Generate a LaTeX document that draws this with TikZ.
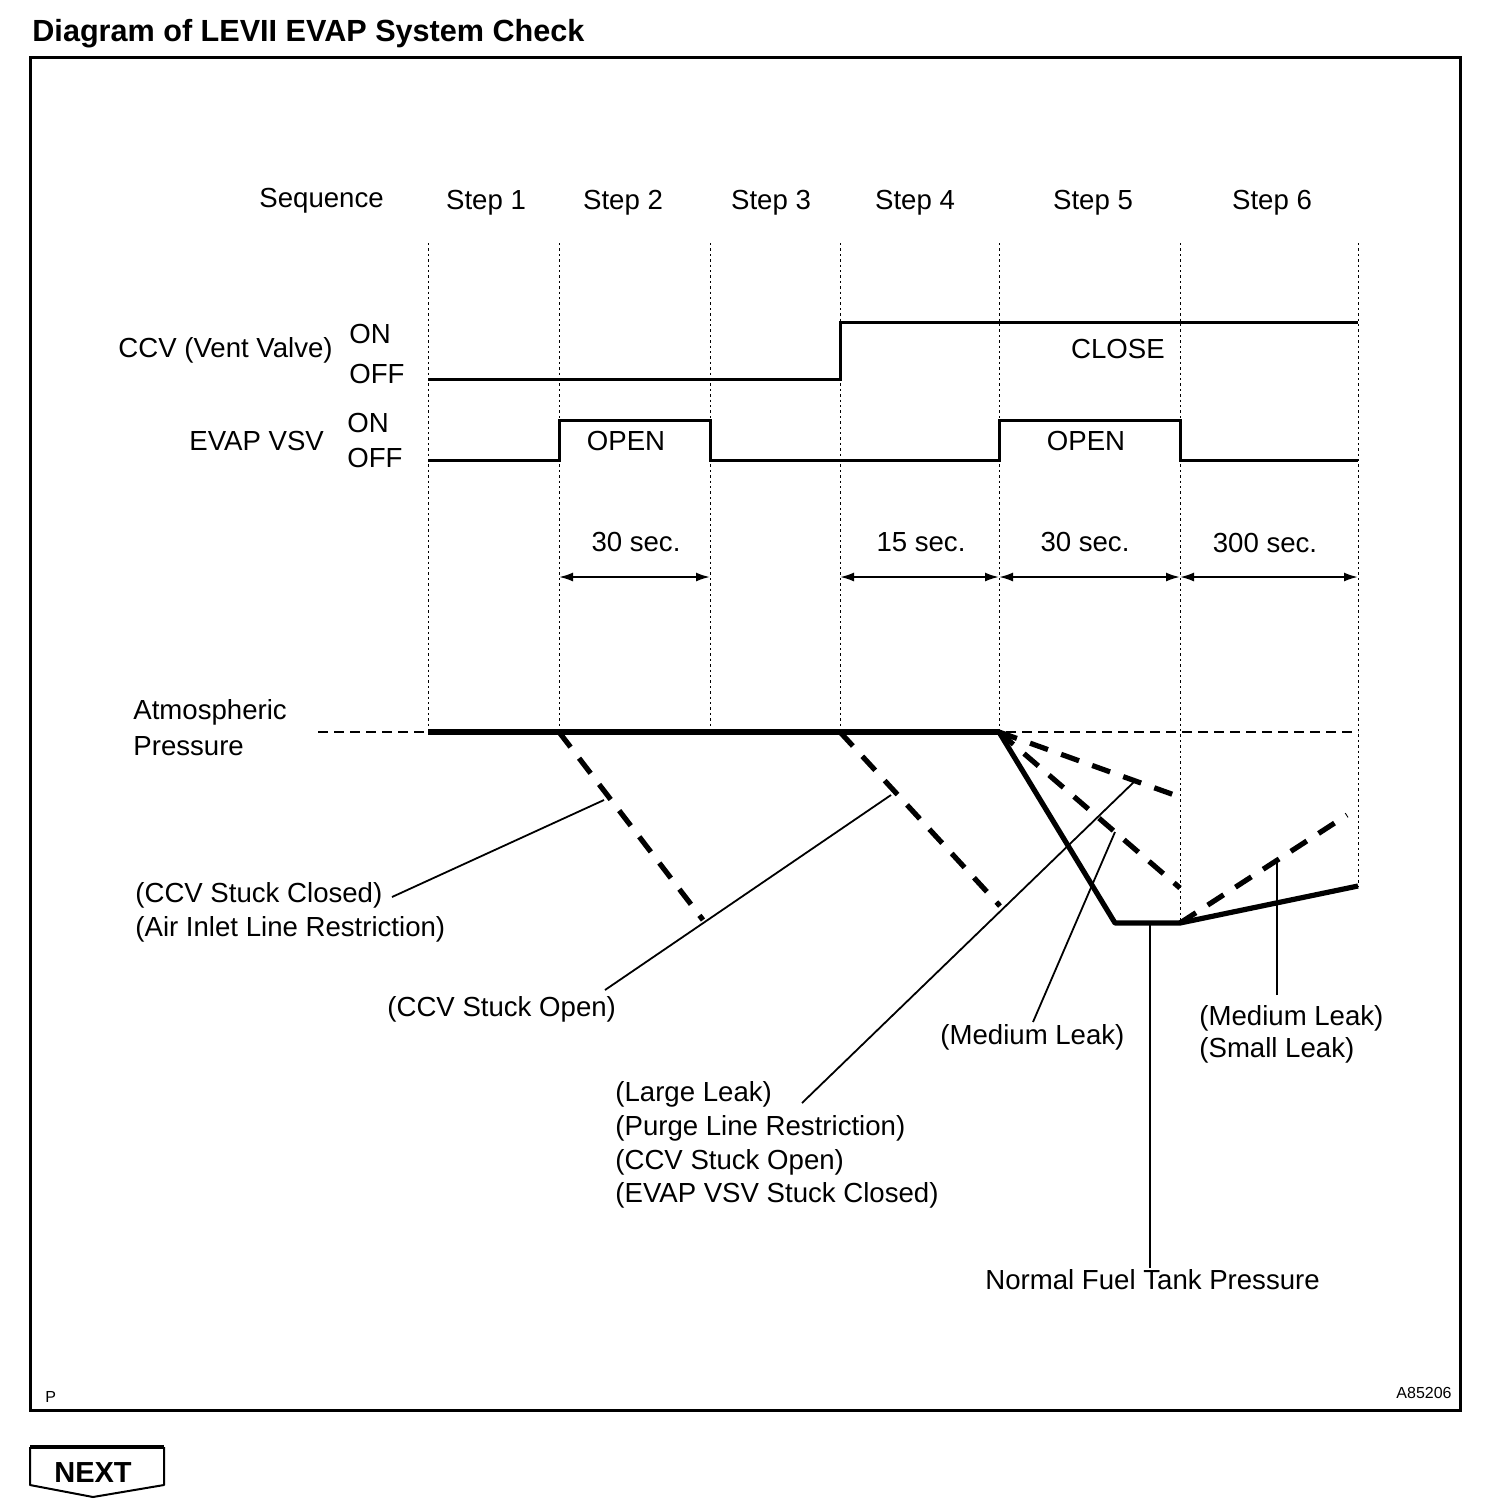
\documentclass[tikz,border=0pt]{standalone}
\usepackage{fontspec}
\setmainfont{Liberation Sans}
\usetikzlibrary{positioning, arrows, arrows.meta}

\begin{document}
\begin{tikzpicture}[x=0.5pt, y=-0.5pt,
  txt/.style={font=\fontsize{13.8}{16}\selectfont, inner sep=0pt},
  tiny/.style={font=\fontsize{8}{9}\selectfont, inner sep=0pt},
  heading/.style={font=\fontsize{15.3}{18}\selectfont\bfseries, inner sep=0pt},
  signal/.style={line width=1.5pt},
  grid/.style={line width=0.5pt, dash pattern=on 1.2pt off 1.5pt},
  span/.style={{Latex[length=7pt,width=4.5pt]}-{Latex[length=7pt,width=4.5pt]}, line width=1pt},
  atmo/.style={line width=1.3pt, dash pattern=on 5pt off 3pt},
  trace/.style={line width=2.6pt, line join=round},
  fault/.style={line width=2.6pt, dash pattern=on 9.5pt off 7pt},
  leader/.style={line width=0.9pt}]
\useasboundingbox (0,0) rectangle (1504,1512);

\node[heading, anchor=base west] (title) at (32,41) {Diagram of LEVII EVAP System Check};
\draw[line width=1.5pt] (30,57) rectangle (1460,1410);

% step boundaries
\foreach \x in {428,559,710,840,999}
  \draw[grid] (\x,243) -- (\x,732);
\draw[grid] (1180,243) -- (1180,923);
\draw[grid] (1358,243) -- (1358,886);

\node[txt, anchor=base west] (seq) at (259,207) {Sequence};
\foreach \x/\n in {486/1, 623/2, 771/3, 915/4, 1093/5, 1272/6}
  \node[txt, anchor=base] (step\n) at (\x,209) {Step \n};

% CCV and EVAP VSV
\node[txt, anchor=base west] (ccv) at (118,357) {CCV (Vent Valve)};
\node[txt, anchor=base west] (ccvon) at (349,343) {ON};
\node[txt, anchor=base west] (ccvoff) at (349,383) {OFF};
\node[txt, anchor=base west] (vsv) at (189,450) {EVAP VSV};
\node[txt, anchor=base west] (vsvon) at (347,432) {ON};
\node[txt, anchor=base west] (vsvoff) at (347,467) {OFF};

\draw[signal] (428,379) -- (840,379) -- (840,322) -- (1358,322);
\draw[signal] (428,460) -- (559,460) -- (559,420) -- (710,420) -- (710,460)
  -- (999,460) -- (999,420) -- (1180,420) -- (1180,460) -- (1358,460);
\node[txt, anchor=base] (close) at (1118,358) {CLOSE};
\node[txt, anchor=base] (open1) at (626,450) {OPEN};
\node[txt, anchor=base] (open2) at (1086,450) {OPEN};

% durations
\coordinate (d2) at (559,577);
\coordinate (d3) at (710,577);
\coordinate (d4) at (840,577);
\coordinate (d5) at (999,577);
\coordinate (d6) at (1180,577);
\coordinate (d7) at (1358,577);
\draw[span] (d2) -- (d3);
\draw[span] (d4) -- (d5);
\draw[span] (d5) -- (d6);
\draw[span] (d6) -- (d7);
\node[txt, anchor=base] (t2) at (636,551) {30 sec.};
\node[txt, anchor=base] (t4) at (921,551) {15 sec.};
\node[txt, anchor=base] (t5) at (1085,551) {30 sec.};
\node[txt, anchor=base] (t6) at (1265,552) {300 sec.};

% pressure
\node[txt, anchor=base west] (atm1) at (133,719) {Atmospheric};
\node[txt, anchor=base west] (atm2) at (133,755) {Pressure};
\draw[atmo] (318,732) -- (1358,732);
\draw[trace] (428,732) -- (999,732);

\draw[fault] (559,732) -- (703,920);
\draw[fault] (840,732) -- (1000,906);
\draw[fault] (999,732) -- (1180,797);
\draw[fault] (999,732) -- (1180,888);
\draw[fault] (1180,923) -- (1347,815);
\draw[trace] (999,732) -- (1115,923) -- (1180,923) -- (1358,886);

\coordinate (p1) at (604,800);
\coordinate (p2) at (891,795);
\coordinate (p3) at (1136,780);
\coordinate (p4) at (1115,832);
\coordinate (p5) at (1150,924);
\coordinate (p6) at (1277,862);

\node[txt, anchor=base west] (stuckc) at (135,902) {(CCV Stuck Closed)};
\node[txt, anchor=base west] (inlet) at (135,936) {(Air Inlet Line Restriction)};
\node[txt, anchor=base west] (stucko) at (387,1016) {(CCV Stuck Open)};
\node[txt, anchor=base west] (large) at (615,1101) {(Large Leak)};
\node[txt, anchor=base west] (purge) at (615,1135) {(Purge Line Restriction)};
\node[txt, anchor=base west] (stucko2) at (615,1169) {(CCV Stuck Open)};
\node[txt, anchor=base west] (vsvc) at (615,1202) {(EVAP VSV Stuck Closed)};
\node[txt, anchor=base west] (med) at (940,1044) {(Medium Leak)};
\node[txt, anchor=base west] (med2) at (1199,1025) {(Medium Leak)};
\node[txt, anchor=base west] (small) at (1199,1057) {(Small Leak)};
\node[txt, anchor=base west] (normal) at (985,1289) {Normal Fuel Tank Pressure};

\coordinate (l1) at (392,897);
\coordinate (l2) at (605,990);
\coordinate (l3) at (802,1103);
\coordinate (l4) at (1033,1022);
\coordinate (l5) at (1150,1268);
\coordinate (l6) at (1277,995);
\draw[leader] (l1) -- (p1);
\draw[leader] (l2) -- (p2);
\draw[leader] (l3) -- (p3);
\draw[leader] (l4) -- (p4);
\draw[leader] (l5) -- (p5);
\draw[leader] (l6) -- (p6);

\node[tiny, anchor=base west] (pmark) at (45,1402) {P};
\node[tiny, anchor=base east] (code) at (1452,1398) {A85206};

% next button
\draw[line width=1pt, line join=round] (30,1447) -- (30,1485) -- (93,1497) -- (164,1485) -- (164,1447);
\draw[line width=2pt] (30,1447) -- (164,1447);
\node[heading, font=\fontsize{14.5}{17}\selectfont\bfseries, anchor=base] (next) at (93,1482) {NEXT};
\end{tikzpicture}
\end{document}
